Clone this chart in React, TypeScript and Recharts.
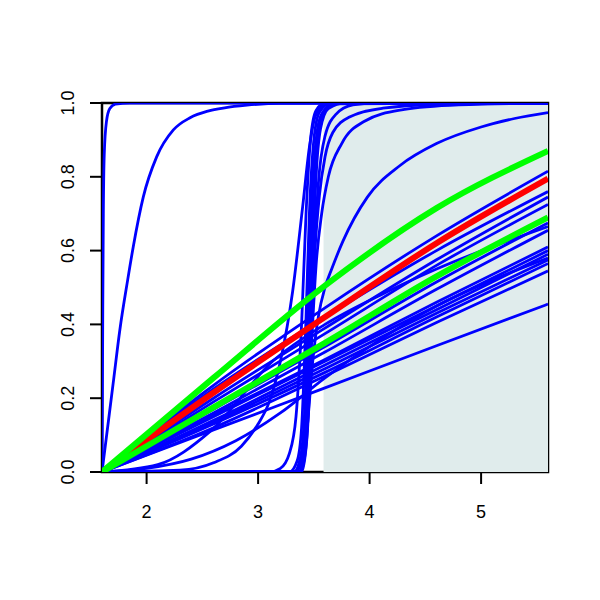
import { LineChart, Line, XAxis, YAxis, ReferenceArea } from 'recharts';

// tick labels
const xTicks = [2, 3, 4, 5];
const yTicks = [0, 0.2, 0.4, 0.6, 0.8, 1];

// shaded band (x start) and plot range
const xRange = [1.6, 5.6];
const bandStart = 3.587;

// near-vertical curves on the left
const curveA = [[1.6, 0], [1.603, 0.15], [1.607, 0.45], [1.612, 0.7], [1.62, 0.86], [1.64, 0.95], [1.67, 0.985], [1.72, 0.997], [1.85, 1], [5.6, 1]];
const curveB = [[1.6, 0], [1.65, 0.12], [1.7, 0.24], [1.76, 0.385], [1.83, 0.52], [1.88, 0.61], [1.97, 0.745], [2.09, 0.854], [2.24, 0.927], [2.39, 0.96], [2.55, 0.978], [2.7, 0.987], [2.9, 0.994], [3.2, 0.999], [5.6, 1]];
const curveC = [[1.6, 0], [2.3, 0.005], [2.6, 0.025], [2.85, 0.07], [3.0, 0.13], [3.1, 0.19], [3.2, 0.3], [3.31, 0.49], [3.4, 0.72], [3.46, 0.88], [3.52, 0.97], [3.6, 0.995], [3.8, 1], [5.6, 1]];

// steep cluster around x = 3.45
const steep1 = [[1.6, 0], [3.1, 0], [3.2, 0.01], [3.28, 0.05], [3.34, 0.15], [3.39, 0.4], [3.43, 0.7], [3.47, 0.9], [3.52, 0.98], [3.6, 1], [5.6, 1]];
const steep2 = [[1.6, 0], [3.28, 0], [3.35, 0.03], [3.39, 0.12], [3.43, 0.42], [3.46, 0.7], [3.5, 0.9], [3.55, 0.975], [3.65, 1], [5.6, 1]];
const steep3 = [[1.6, 0], [3.32, 0], [3.38, 0.04], [3.42, 0.18], [3.45, 0.45], [3.48, 0.72], [3.52, 0.9], [3.57, 0.97], [3.68, 0.998], [5.6, 1]];
const steep4 = [[1.6, 0], [3.34, 0], [3.4, 0.05], [3.44, 0.25], [3.47, 0.52], [3.5, 0.76], [3.54, 0.92], [3.6, 0.98], [3.72, 1], [5.6, 1]];
const steep5 = [[1.6, 0], [3.36, 0], [3.42, 0.06], [3.46, 0.3], [3.49, 0.58], [3.52, 0.8], [3.56, 0.93], [3.63, 0.985], [3.78, 1], [5.6, 1]];
const steep6 = [[1.6, 0], [3.38, 0], [3.43, 0.07], [3.47, 0.3], [3.5, 0.56], [3.54, 0.78], [3.6, 0.91], [3.7, 0.97], [3.85, 0.995], [4.05, 1], [5.6, 1]];
const steep7 = [[1.6, 0], [3.37, 0], [3.43, 0.1], [3.47, 0.33], [3.51, 0.6], [3.55, 0.75], [3.6, 0.854], [3.67, 0.92], [3.82, 0.962], [4.12, 0.986], [4.6, 0.996], [5.6, 1]];
const steep8 = [[1.6, 0], [3.39, 0], [3.44, 0.1], [3.48, 0.35], [3.52, 0.56], [3.57, 0.7], [3.63, 0.8], [3.75, 0.89], [3.95, 0.95], [4.3, 0.982], [4.8, 0.995], [5.6, 1]];
const steep9 = [[1.6, 0], [3.38, 0], [3.44, 0.12], [3.49, 0.3], [3.54, 0.42], [3.6, 0.5], [3.66, 0.55], [3.76, 0.625], [3.98, 0.745], [4.27, 0.83], [4.6, 0.89], [5.0, 0.935], [5.3, 0.958], [5.6, 0.974]];

// fan of slow curves from (1.6, 0)
const fan1 = [[1.6, 0], [2.6, 0.235], [3.6, 0.445], [4.6, 0.64], [5.6, 0.815]];
const fan2 = [[1.6, 0], [2.6, 0.225], [3.6, 0.42], [4.6, 0.6], [5.6, 0.76]];
const fan3 = [[1.6, 0], [2.6, 0.2], [3.6, 0.39], [4.6, 0.575], [5.6, 0.745]];
const fan4 = [[1.6, 0], [2.6, 0.19], [3.6, 0.375], [4.6, 0.56], [5.6, 0.725]];
const fan5 = [[1.6, 0], [2.6, 0.17], [3.6, 0.34], [4.6, 0.515], [5.6, 0.675]];
const fan6 = [[1.6, 0], [2.6, 0.16], [3.6, 0.325], [4.6, 0.495], [5.6, 0.655]];
const fan7 = [[1.6, 0], [2.6, 0.155], [3.6, 0.305], [4.6, 0.46], [5.6, 0.61]];
const fan8 = [[1.6, 0], [2.6, 0.15], [3.6, 0.3], [4.6, 0.45], [5.6, 0.6]];
const fan9 = [[1.6, 0], [2.6, 0.14], [3.6, 0.29], [4.6, 0.44], [5.6, 0.59]];
const fan10 = [[1.6, 0], [2.6, 0.135], [3.6, 0.28], [4.6, 0.43], [5.6, 0.575]];
const fan11 = [[1.6, 0], [2.6, 0.13], [3.6, 0.27], [4.6, 0.42], [5.6, 0.565]];
const fan12 = [[1.6, 0], [2.6, 0.12], [3.6, 0.26], [4.6, 0.405], [5.6, 0.545]];
const fan13 = [[1.6, 0], [2.6, 0.114], [3.6, 0.228], [4.6, 0.342], [5.6, 0.455]];
const slow1 = [[1.6, 0], [2.0, 0.01], [2.4, 0.035], [2.8, 0.085], [3.2, 0.16], [3.6, 0.255], [4.1, 0.36], [4.6, 0.45], [5.1, 0.52], [5.6, 0.58]];
const slow2 = [[1.6, 0], [2.1, 0.02], [2.57, 0.11], [3.13, 0.3], [3.6, 0.4], [4.1, 0.48], [4.6, 0.55], [5.6, 0.665]];

// highlighted curves
const redCurve = [[1.6, 0], [2.6, 0.215], [3.6, 0.42], [4.6, 0.62], [5.6, 0.795]];
const greenUpper = [[1.6, 0], [2.6, 0.255], [3.6, 0.505], [4.6, 0.715], [5.6, 0.87]];
const greenLower = [[1.6, 0], [2.6, 0.175], [3.6, 0.35], [4.6, 0.53], [5.6, 0.69]];

const blueCurves = [
  curveA, curveB, curveC,
  fan1, fan2, fan3, fan4, fan5, fan6, fan7, fan8, fan9, fan10, fan11, fan12, fan13, slow1, slow2,
  steep1, steep2, steep3, steep4, steep5, steep6, steep7, steep8, steep9,
];

const toPts = (arr: number[][]) => arr.map(([x, y]) => ({ x, y }));

const font = '"Liberation Sans", Arial, Helvetica, sans-serif';

const XTick = ({ x, payload }: any) => (
  <text x={x} y={518} textAnchor="middle" style={{ fontSize: 18, fontFamily: font }} fill="#000">
    {payload.value}
  </text>
);

const YTick = ({ y, payload }: any) => (
  <text
    x={0}
    y={0}
    transform={`translate(74, ${y}) rotate(-90)`}
    textAnchor="middle"
    style={{ fontSize: 18, fontFamily: font }}
    fill="#000"
  >
    {Number(payload.value).toFixed(1)}
  </text>
);

export default function App() {
  return (
    <div style={{ position: 'absolute', left: 0, top: 0, width: 600, height: 600, background: '#fff' }}>
      <LineChart width={600} height={600} margin={{ top: 103, right: 52, left: 0, bottom: 0 }}>
        <XAxis
          type="number"
          dataKey="x"
          domain={xRange}
          allowDataOverflow
          ticks={xTicks}
          axisLine={false}
          tickLine={{ stroke: '#000', strokeWidth: 2 }}
          tickSize={12}
          height={128}
          tick={XTick}
        />
        <YAxis
          type="number"
          dataKey="y"
          domain={[0, 1]}
          allowDataOverflow
          ticks={yTicks}
          axisLine={false}
          tickLine={{ stroke: '#000', strokeWidth: 2 }}
          tickSize={12}
          width={102}
          tick={YTick}
        />
        <ReferenceArea x1={1.6} x2={5.6} y1={0} y2={1} fill="none" stroke="#000" strokeWidth={2.5} ifOverflow="visible" />
        <ReferenceArea x1={bandStart} x2={5.6} y1={0} y2={1} fill="#e0ecec" fillOpacity={1} stroke="none" ifOverflow="visible" />
        {blueCurves.map((c, i) => (
          <Line
            key={'b' + i}
            data={toPts(c)}
            dataKey="y"
            type="monotone"
            stroke="#0000ff"
            strokeWidth={2.8}
            dot={false}
            activeDot={false}
            isAnimationActive={false}
          />
        ))}
        <Line data={toPts(redCurve)} dataKey="y" type="monotone" stroke="#ff0000" strokeWidth={6} dot={false} activeDot={false} isAnimationActive={false} />
        <Line data={toPts(greenUpper)} dataKey="y" type="monotone" stroke="#00ff00" strokeWidth={6} dot={false} activeDot={false} isAnimationActive={false} />
        <Line data={toPts(greenLower)} dataKey="y" type="monotone" stroke="#00ff00" strokeWidth={6} dot={false} activeDot={false} isAnimationActive={false} />
      </LineChart>
    </div>
  );
}
